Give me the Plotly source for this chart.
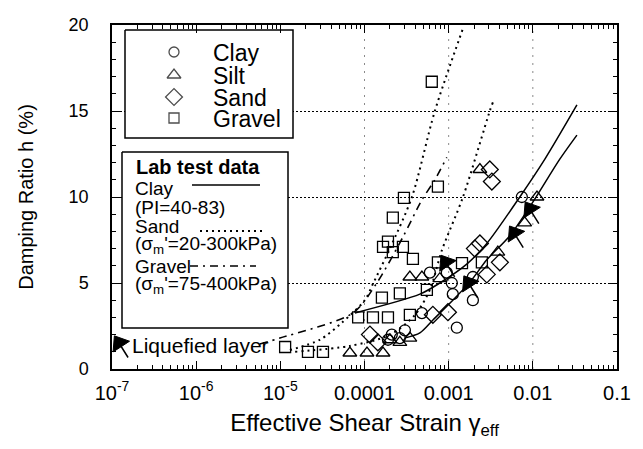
import numpy as np
import plotly.graph_objects as go

# ------------------------------------------------------------------ data
# field data (effective shear strain, damping ratio %)
clay_strain = [7.4e-3, 1.94e-3, 1.25e-3, 1.12e-3, 1.94e-3, 9.5e-4, 5.98e-4, 4.81e-4,
               2.11e-4, 2.63e-4, 1.90e-4, 3.02e-4, 1.09e-3]
clay_h = [10.0, 4.0, 2.4, 4.35, 5.35, 5.6, 5.6, 3.25, 2.0, 1.8, 1.7, 2.25, 5.0]

silt_strain = [2.35e-3, 1.12e-2, 8.0e-3, 3.84e-3, 3.46e-4, 4.81e-4, 7.85e-4,
               6.7e-5, 1.07e-4, 1.66e-4, 2.0e-4, 2.63e-4, 3.46e-4]
silt_h = [11.6, 10.0, 8.5, 6.8, 5.35, 5.35, 5.25, 0.93, 0.93, 0.93, 1.7, 1.55, 1.8]

sand_strain = [3.08e-3, 3.26e-3, 2.05e-3, 2.35e-3, 4.06e-3, 2.84e-3, 6.49e-4,
               9.8e-4, 1.16e-4, 1.44e-4]
sand_h = [11.6, 10.9, 7.0, 7.3, 6.2, 5.5, 3.15, 3.3, 2.0, 1.55]

gravel_strain = [1.14e-5, 2.13e-5, 3.21e-5, 8.4e-5, 1.26e-4, 1.90e-4, 3.46e-4,
                 1.61e-4, 2.63e-4, 5.51e-4, 1.66e-4, 1.90e-4, 2.17e-4, 2.86e-4,
                 3.76e-4, 2.17e-4, 2.94e-4, 6.3e-4, 7.45e-4, 7.45e-4, 1.44e-3, 2.48e-3]
gravel_h = [1.28, 1.0, 1.0, 3.0, 3.0, 3.0, 3.15, 4.15, 4.4, 4.6, 7.1, 7.4, 6.8, 7.1,
            6.4, 8.8, 9.95, 16.7, 10.6, 6.2, 6.15, 6.2]

liq_strain = [9.2e-3, 6.0e-3, 1.72e-3, 9.2e-4]
liq_h = [9.3, 7.9, 5.0, 6.2]

# laboratory test curves
clay_up_strain = [7.7e-5, 4.55e-4, 7.85e-4, 1.64e-3, 2.84e-3, 7.0e-3, 1.39e-2, 3.34e-2]
clay_up_h = [3.26, 4.35, 5.0, 6.1, 7.3, 10.0, 12.2, 15.35]
clay_lo_strain = [3.0e-4, 4.55e-4, 6.5e-4, 1.12e-3, 1.79e-3, 2.84e-3, 5.33e-3, 1.0e-2,
                  2.09e-2, 3.34e-2]
clay_lo_h = [1.8, 2.1, 2.85, 4.0, 5.05, 6.35, 7.75, 9.7, 12.2, 13.6]
sand1_strain = [1.3e-5, 2.95e-5, 5.4e-5, 1.01e-4, 1.26e-4, 2.0e-4, 3.66e-4, 6.85e-4, 1.48e-3]
sand1_h = [1.1, 1.7, 2.7, 4.0, 4.95, 7.0, 10.0, 15.0, 19.8]
sand2_strain = [1.5e-5, 6.7e-5, 2.0e-4, 3.97e-4, 5.98e-4, 8.3e-4, 1.48e-3, 3.08e-3, 3.35e-3]
sand2_h = [1.0, 1.34, 1.98, 3.14, 4.6, 6.9, 10.0, 15.0, 15.5]
gravel_c_strain = [5.7e-6, 9.9e-6, 7.3e-5, 1.40e-4, 2.86e-4, 4.81e-4, 6.85e-4, 9.5e-4]
gravel_c_h = [1.45, 1.8, 3.26, 5.0, 7.67, 9.83, 11.0, 12.3]

x_ticks = [1e-7, 1e-6, 1e-5, 1e-4, 1e-3, 1e-2, 1e-1]
x_ticktext = ["10<sup>-7</sup>", "10<sup>-6</sup>", "10<sup>-5</sup>", "0.0001",
              "0.001", "0.01", "0.1"]
y_ticks = [0, 5, 10, 15, 20]
soil_names = ["Clay", "Silt", "Sand", "Gravel"]

FONT = "Liberation Sans, Arial, Helvetica, sans-serif"

fig = go.Figure()


def open_marker(sym, size):
    return dict(symbol=sym, size=size, color="black", line=dict(color="black", width=1.3))


ARROW_MARK = dict(symbol="triangle-up", size=17, angle=-33, color="black",
                  line=dict(color="black", width=1))
TAIL = dict(showarrow=True, ax=10, ay=16, arrowhead=0, arrowwidth=1.5,
            arrowcolor="black", standoff=0, text="")

# curves
fig.add_trace(go.Scatter(x=clay_up_strain, y=clay_up_h, mode="lines",
                         line=dict(color="black", width=1.5, shape="spline", smoothing=0.8)))
fig.add_trace(go.Scatter(x=clay_lo_strain, y=clay_lo_h, mode="lines",
                         line=dict(color="black", width=1.5, shape="spline", smoothing=0.8)))
fig.add_trace(go.Scatter(x=sand1_strain, y=sand1_h, mode="lines",
                         line=dict(color="black", width=2, dash="2px,4px", shape="spline", smoothing=0.8)))
fig.add_trace(go.Scatter(x=sand2_strain, y=sand2_h, mode="lines",
                         line=dict(color="black", width=2, dash="2px,4px", shape="spline", smoothing=0.8)))
fig.add_trace(go.Scatter(x=gravel_c_strain, y=gravel_c_h, mode="lines",
                         line=dict(color="black", width=1.6, dash="8px,5px,2px,5px", shape="spline", smoothing=0.8)))

# data points
fig.add_trace(go.Scatter(x=gravel_strain, y=gravel_h, mode="markers", marker=open_marker("square-open", 11)))
fig.add_trace(go.Scatter(x=sand_strain, y=sand_h, mode="markers", marker=open_marker("diamond-open", 13)))
fig.add_trace(go.Scatter(x=silt_strain, y=silt_h, mode="markers", marker=open_marker("triangle-up-open", 12)))
fig.add_trace(go.Scatter(x=clay_strain, y=clay_h, mode="markers", marker=open_marker("circle-open", 11)))
fig.add_trace(go.Scatter(x=liq_strain, y=liq_h, mode="markers", marker=ARROW_MARK))

annotations = []
for xs, ys in zip(liq_strain, liq_h):
    annotations.append(dict(x=np.log10(xs), y=ys, xref="x", yref="y", **TAIL))

# ---------------- legend boxes (overlay axes in pixel units)
box1 = (125, 30, 293, 138)
box2 = (122, 152, 288, 328)
bx, by = [], []
for (x0, y0, x1, y1) in (box1, box2):
    bx += [x0, x1, x1, x0, x0, None]
    by += [y0, y0, y1, y1, y0, None]
fig.add_trace(go.Scatter(x=bx, y=by, xaxis="x2", yaxis="y2", mode="lines", fill="toself",
                         fillcolor="white", line=dict(color="black", width=1.5), hoverinfo="skip"))

leg_rows = [52, 75, 97, 118]
leg_syms = ["circle-open", "triangle-up-open", "diamond-open", "square-open"]
leg_sizes = [10, 12, 13, 10]
fig.add_trace(go.Scatter(x=[174] * 4, y=leg_rows, xaxis="x2", yaxis="y2", mode="markers",
                         marker=dict(symbol=leg_syms, size=leg_sizes, color="black",
                                     line=dict(color="black", width=1.3)), hoverinfo="skip"))
# liquefied-layer key
fig.add_trace(go.Scatter(x=[119], y=[343], xaxis="x2", yaxis="y2", mode="markers",
                         marker=ARROW_MARK, hoverinfo="skip"))
annotations.append(dict(x=119, y=343, xref="x2", yref="y2", **TAIL))

for name, yy in zip(soil_names, leg_rows):
    annotations.append(dict(x=211, y=yy + 1, xref="x2", yref="y2", text=name, showarrow=False,
                            xanchor="left", yanchor="middle", font=dict(size=23, family=FONT, color="black")))

box2_lines = [("<b>Lab test data</b>", 167, 20, 134),
              ("Clay", 188, 19, 133),
              ("(PI=40-83)", 207, 19, 133),
              ("Sand", 226, 19, 133),
              ("(σ<sub>m</sub>'=20-300kPa)", 245, 19, 133),
              ("Gravel", 266, 19, 133),
              ("(σ<sub>m</sub>'=75-400kPa)", 285, 19, 133)]
for txt, yy, fs, xx in box2_lines:
    annotations.append(dict(x=xx, y=yy, xref="x2", yref="y2", text=txt, showarrow=False,
                            xanchor="left", yanchor="middle", font=dict(size=fs, family=FONT, color="black")))

annotations.append(dict(x=130, y=345, xref="x2", yref="y2", text="Liquefied layer", showarrow=False,
                        xanchor="left", yanchor="middle", font=dict(size=21, family=FONT, color="black")))

shapes = [
    dict(type="line", xref="x2", yref="y2", x0=192, x1=260, y0=185, y1=185,
         line=dict(color="black", width=1.5), layer="above"),
    dict(type="line", xref="x2", yref="y2", x0=200, x1=262, y0=231, y1=231,
         line=dict(color="black", width=2, dash="2px,4px"), layer="above"),
    dict(type="line", xref="x2", yref="y2", x0=190, x1=256, y0=266, y1=266,
         line=dict(color="black", width=1.6, dash="8px,5px,2px,5px"), layer="above"),
]
for v in x_ticks[3:6]:
    fx = (np.log10(v) + 7) / 6
    shapes.append(dict(type="line", xref="paper", yref="paper", x0=fx, x1=fx, y0=0, y1=1,
                       line=dict(color="#8a8a8a", width=1, dash="2px,6px"), layer="below"))

fig.update_layout(
    width=643, height=449,
    margin=dict(l=112, r=26, t=25, b=80),
    paper_bgcolor="white", plot_bgcolor="white",
    showlegend=False,
    font=dict(family=FONT, color="black"),
    annotations=annotations,
    shapes=shapes,
    xaxis=dict(type="log", range=[-7, -1], tickvals=x_ticks, ticktext=x_ticktext,
               ticks="inside", ticklen=8, tickwidth=1.2, tickcolor="black",
               showline=True, linecolor="black", linewidth=1.5, mirror="ticks",
               showgrid=False, zeroline=False,
               minor=dict(ticks="inside", ticklen=4, tickwidth=1, tickcolor="black", dtick="D1", showgrid=False),
               tickfont=dict(size=20, family=FONT), ticklabelstandoff=5,
               title=dict(text="Effective Shear Strain γ<sub>eff</sub>", font=dict(size=24, family=FONT), standoff=11),
               automargin=False),
    yaxis=dict(range=[0, 20], tickvals=y_ticks, ticks="inside", ticklen=8, tickwidth=1.2,
               tickcolor="black", showline=True, linecolor="black", linewidth=1.5, mirror="ticks",
               showgrid=True, gridcolor="black", gridwidth=1.3, griddash="2px,2px", zeroline=False,
               minor=dict(ticks="inside", ticklen=4, tickwidth=1, tickcolor="black", dtick=1, showgrid=False),
               tickfont=dict(size=18, family=FONT), ticklabelstandoff=18,
               title=dict(text="Damping Ratio h (%)", font=dict(size=20, family=FONT), standoff=30),
               automargin=False),
    xaxis2=dict(overlaying="x", anchor="y2", range=[112, 617], visible=False, fixedrange=True),
    yaxis2=dict(overlaying="y", anchor="x2", range=[369, 25], visible=False, fixedrange=True),
)

fig.write_html("out.html")
